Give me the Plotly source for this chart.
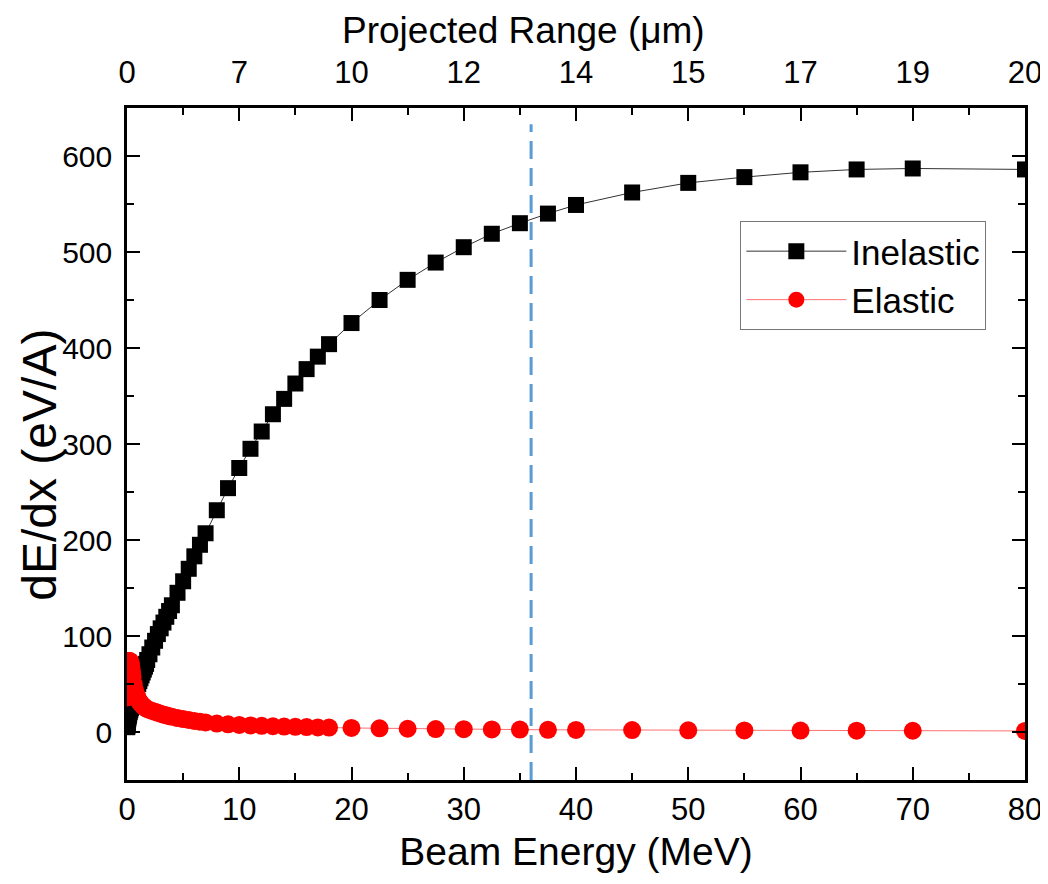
import plotly.graph_objects as go

# Beam energy grid (MeV)
energy = [0.02, 0.03, 0.04, 0.05, 0.06, 0.07, 0.08, 0.09, 0.1, 0.12, 0.14, 0.16, 0.18, 0.2,
          0.25, 0.3, 0.35, 0.4, 0.45, 0.5, 0.6, 0.7, 0.8, 0.9, 1.0, 1.1, 1.2, 1.3, 1.4, 1.5,
          1.6, 1.7, 1.8, 2.0, 2.25, 2.5, 2.75, 3.0, 3.25, 3.5, 3.75, 4.0, 4.5, 5.0, 5.5, 6.0,
          6.5, 7.0, 8, 9, 10, 11, 12, 13, 14, 15, 16, 17, 18, 20, 22.5, 25, 27.5, 30, 32.5,
          35, 37.5, 40, 45, 50, 55, 60, 65, 70, 80]

# Electronic (inelastic) stopping, eV/A
inelastic = [5, 6, 7, 8, 9, 10, 11, 12, 13, 14, 16, 17, 18, 19,
             21, 23, 25, 27, 29, 31, 35, 38, 42, 46, 50, 53, 56, 59, 62, 65,
             68, 71, 75, 81, 88, 95, 102, 108, 114, 120, 126, 132, 145, 157, 170, 183,
             195, 207, 231, 254, 275, 295, 313, 331, 347, 363, 378, 391, 404, 426, 450, 471, 489, 505, 519,
             530, 540, 549, 562, 572, 578, 583, 586, 587, 586]

# Nuclear (elastic) stopping, eV/A
elastic = [36, 42, 48, 53, 57, 60, 63, 66, 68, 70, 72, 73, 74, 74,
           74, 73, 71, 67, 62, 57, 50, 44, 40, 37, 34, 32, 30, 29, 27.5, 26.5,
           25.5, 24.5, 24, 23, 22, 21, 20, 19, 18, 17.5, 16.5, 16, 14.5, 13.5, 12.5, 11.5,
           10.8, 10, 8.8, 8, 7.4, 6.9, 6.4, 6, 5.7, 5.4, 5.1, 4.8, 4.6, 4.2, 3.8, 3.4, 3.1, 2.9, 2.7,
           2.5, 2.3, 2.2, 2.0, 1.8, 1.6, 1.5, 1.4, 1.3, 1.1]

# Top axis: projected range labels at beam-energy positions
range_tick_energy = [0, 10, 20, 30, 40, 50, 60, 70, 80]
range_tick_text = ["0", "7", "10", "12", "14", "15", "17", "19", "20"]

marker_energy = 36  # dashed reference line (MeV)
marker_top = 633

font = "Liberation Sans Narrow, Arial Narrow, Liberation Sans, Arial"

fig = go.Figure()
fig.add_trace(go.Scatter(
    x=energy, y=inelastic, name="Inelastic", mode="lines+markers",
    line=dict(color="#333333", width=1),
    marker=dict(symbol="square", size=16, color="black"),
))
fig.add_trace(go.Scatter(
    x=energy, y=elastic, name="Elastic", mode="lines+markers",
    line=dict(color="#ff7070", width=1),
    marker=dict(symbol="circle", size=18, color="#ff0000"),
))
# invisible trace to activate top axis
fig.add_trace(go.Scatter(x=[0, 80], y=[None, None], xaxis="x2", showlegend=False,
                         hoverinfo="skip", mode="markers"))

fig.add_shape(type="line", x0=marker_energy, x1=marker_energy, y0=-50, y1=marker_top,
              xref="x", yref="y", line=dict(color="#5b9bd5", width=3, dash="18px,9px"))

fig.add_annotation(text="Projected Range (\u03bcm)", xref="paper", yref="paper",
                   x=0.442, y=1.116, xanchor="center", yanchor="middle", showarrow=False,
                   font=dict(family=font, size=37, color="black"))
fig.add_annotation(text="dE/dx (eV/A)", xref="paper", yref="paper", textangle=-90,
                   x=-0.097, y=0.469, xanchor="center", yanchor="middle", showarrow=False,
                   font=dict(family=font, size=48, color="black"))

fig.update_layout(
    width=1040, height=876,
    margin=dict(l=119, r=23, t=100, b=104),
    paper_bgcolor="white", plot_bgcolor="white",
    showlegend=True,
    legend=dict(x=0.683, y=0.832, xanchor="left", yanchor="top",
                bordercolor="#777777", borderwidth=1, bgcolor="white",
                font=dict(family=font, size=35, color="black"),
                itemwidth=100, tracegroupgap=0),
    xaxis=dict(
        range=[0, 80], tickvals=[0, 10, 20, 30, 40, 50, 60, 70, 80],
        ticks="inside", ticklen=13, tickwidth=2, tickcolor="black",
        minor=dict(ticks="inside", dtick=5, ticklen=7, tickwidth=2, tickcolor="black"),
        showline=True, linewidth=2.5, linecolor="black", mirror=True,
        showgrid=False, zeroline=False, automargin=False,
        tickfont=dict(family=font, size=31, color="black"),
        title=dict(text="Beam Energy (MeV)", font=dict(family=font, size=39, color="black"), standoff=12),
    ),
    xaxis2=dict(
        overlaying="x", side="top", range=[0, 80],
        tickvals=range_tick_energy, ticktext=range_tick_text,
        ticks="inside", ticklen=13, tickwidth=2, tickcolor="black",
        minor=dict(ticks="inside", dtick=5, ticklen=7, tickwidth=2, tickcolor="black"),
        showgrid=False, zeroline=False, showline=False, automargin=False,
        ticklabelstandoff=18,
        tickfont=dict(family=font, size=31, color="black"),
    ),
    yaxis=dict(
        range=[-50, 650], tickvals=[0, 100, 200, 300, 400, 500, 600],
        ticks="inside", ticklen=13, tickwidth=2, tickcolor="black",
        minor=dict(ticks="inside", dtick=50, ticklen=7, tickwidth=2, tickcolor="black"),
        showline=True, linewidth=2.5, linecolor="black", mirror="ticks",
        showgrid=False, zeroline=False, automargin=False,
        ticklabelstandoff=6,
        tickfont=dict(family=font, size=30, color="black"),
    ),
)

fig.write_html("out.html")
